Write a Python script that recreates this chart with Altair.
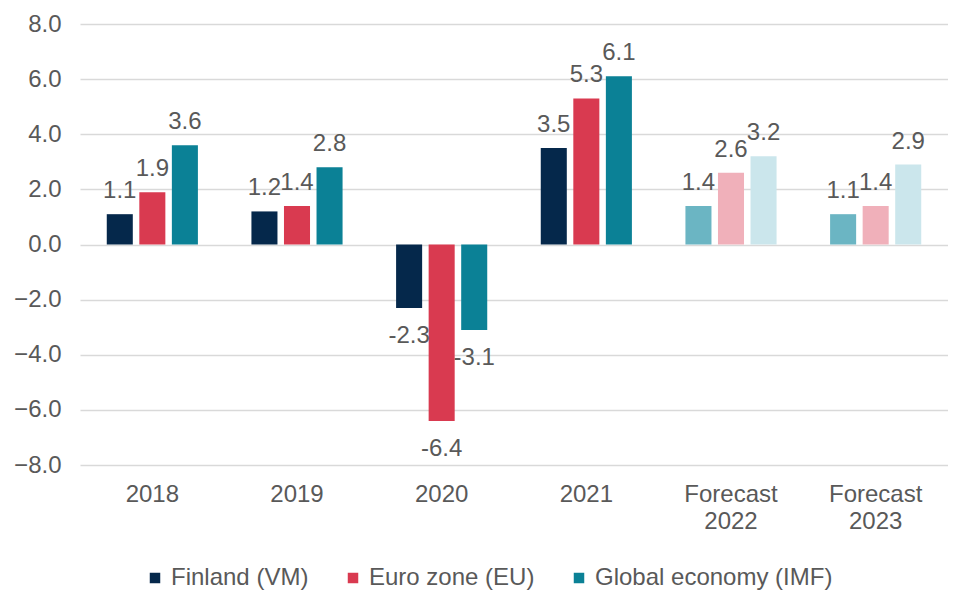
import altair as alt
import pandas as pd

categories = ["2018", "2019", "2020", "2021", "Forecast 2022", "Forecast 2023"]
series = ["Finland (VM)", "Euro zone (EU)", "Global economy (IMF)"]
finland = [1.1, 1.2, -2.3, 3.5, 1.4, 1.1]
eurozone = [1.9, 1.4, -6.4, 5.3, 2.6, 1.4]
global_econ = [3.6, 2.8, -3.1, 6.1, 3.2, 2.9]
forecast = [False, False, False, False, True, True]

colors = ["#05284b", "#d93a50", "#0b8196"]
forecast_colors = ["#6bb5c3", "#f0b0ba", "#cbe6ec"]

rows = []
for i, c in enumerate(categories):
    for j, (s, vals) in enumerate(zip(series, [finland, eurozone, global_econ])):
        rows.append({
            "category": c,
            "series": s,
            "value": vals[i],
            "forecast": forecast[i],
            "fc_color": forecast_colors[j],
            "label": f"{vals[i]:.1f}",
        })
df = pd.DataFrame(rows)

FONT = "Liberation Sans"
GRAY = "#595959"
FS = 24

x_enc = alt.X(
    "category:N",
    sort=categories,
    scale=alt.Scale(paddingInner=0.37, paddingOuter=0.185),
    axis=alt.Axis(
        title=None,
        labelAngle=0,
        labelFontSize=FS,
        labelColor=GRAY,
        labelFont=FONT,
        ticks=False,
        domain=False,
        grid=False,
        labelPadding=17,
        labelLineHeight=27,
        labelExpr="indexof(datum.label, 'Forecast') >= 0 ? split(datum.label, ' ') : datum.label",
    ),
)
xoff = alt.XOffset("series:N", sort=series, scale=alt.Scale(paddingInner=0.2))
y_enc = alt.Y(
    "value:Q",
    scale=alt.Scale(domain=[-8, 8], nice=False),
    axis=alt.Axis(
        title=None,
        values=[-8, -6, -4, -2, 0, 2, 4, 6, 8],
        format=".1f",
        labelFontSize=FS,
        labelColor=GRAY,
        labelFont=FONT,
        ticks=False,
        domain=False,
        labelPadding=19,
        gridColor="#d9d9d9",
        gridWidth=1.3,
    ),
)

base = alt.Chart(df).encode(x=x_enc, xOffset=xoff, y=y_enc)

bars_actual = base.transform_filter("!datum.forecast").mark_bar().encode(
    color=alt.Color(
        "series:N",
        sort=series,
        scale=alt.Scale(domain=series, range=colors),
        legend=alt.Legend(
            title=None,
            orient="none",
            legendX=63,
            legendY=542,
            direction="horizontal",
            symbolType="square",
            symbolSize=110,
            symbolStrokeWidth=0,
            labelFontSize=FS,
            labelColor=GRAY,
            labelFont=FONT,
            labelLimit=400,
            columnPadding=32,
            symbolOffset=0,
            labelOffset=4,
        ),
    )
)
bars_fc = base.transform_filter("datum.forecast").mark_bar().encode(
    color=alt.Color("fc_color:N", scale=None)
)

text_pos = base.transform_filter("datum.value >= 0").mark_text(
    baseline="bottom", dy=-11, fontSize=FS, font=FONT, color=GRAY
).encode(text="label:N")
text_neg = base.transform_filter("datum.value < 0").mark_text(
    baseline="top", dy=16, fontSize=FS, font=FONT, color=GRAY
).encode(text="label:N")

chart = alt.layer(bars_actual, bars_fc, text_pos, text_neg).resolve_scale(
    color="independent"
).properties(
    width=868, height=441,
    padding={"left": 5, "right": 0, "top": 4, "bottom": 0},
).configure_view(stroke=None)

chart.save("out.html", embed_options={"renderer": "svg", "actions": False})
